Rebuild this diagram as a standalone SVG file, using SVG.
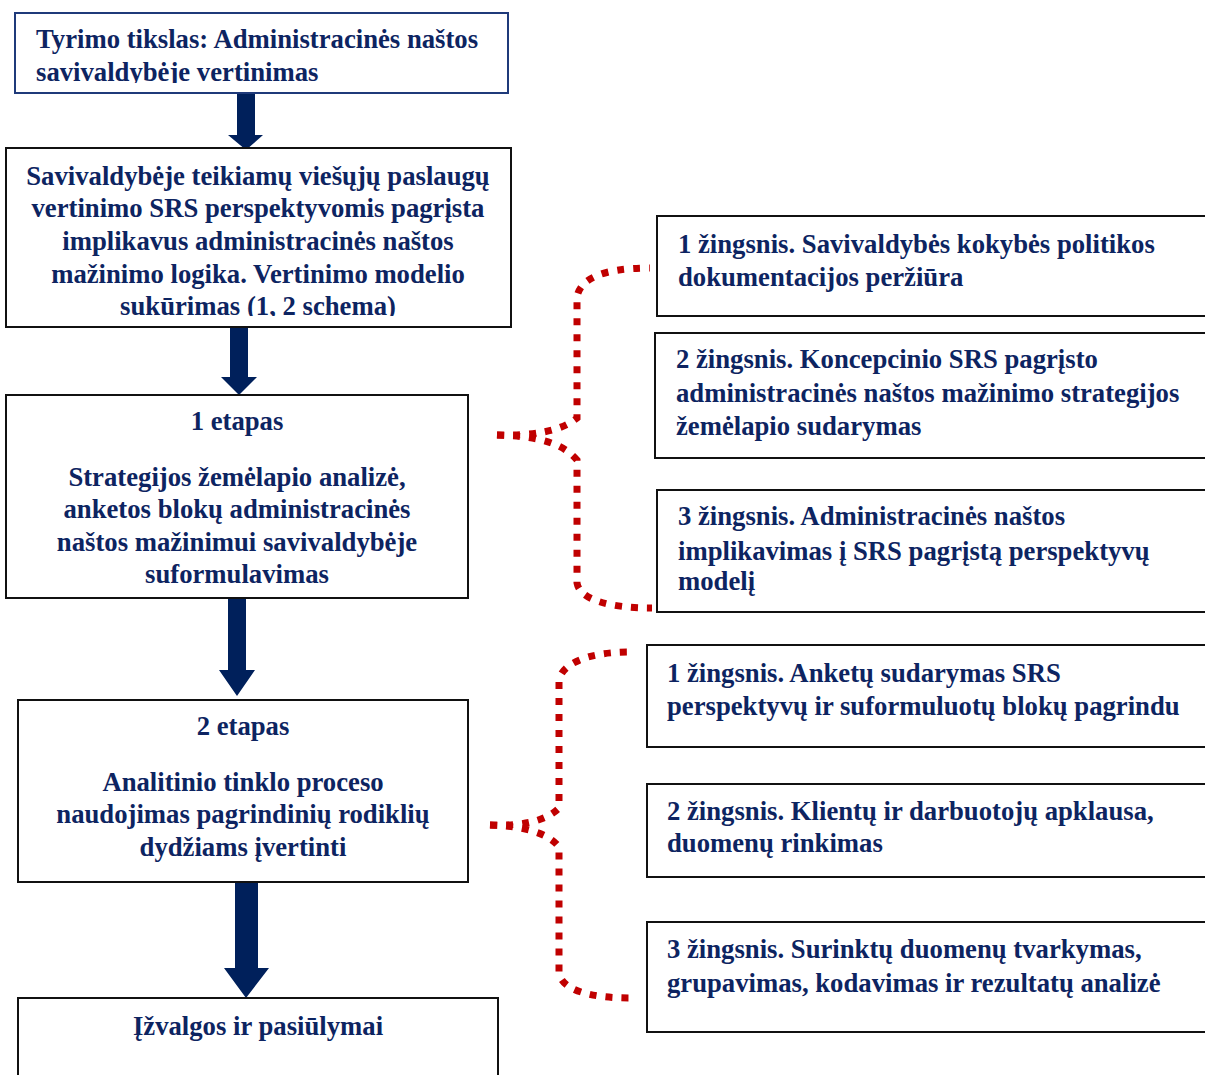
<svg xmlns="http://www.w3.org/2000/svg" width="1205" height="1075" viewBox="0 0 1205 1075">
  <style>
    .box { fill: #ffffff; stroke: #111111; stroke-width: 2; }
    .box-blue { fill: #ffffff; stroke: #1f3a7a; stroke-width: 2; }
    .t { font-family: "Liberation Serif", "Times New Roman", serif; font-weight: bold; font-size: 26.7px; fill: #0d2461; }
    .c { text-anchor: middle; }
    .arrow { fill: #00205b; }
    .brace { fill: none; stroke: #c00000; stroke-width: 7; stroke-dasharray: 7 9; }
  </style>
  <defs>
    <clipPath id="clip-goal"><rect x="15" y="13" width="493" height="70"/></clipPath>
    <clipPath id="clip-model"><rect x="6" y="148" width="505" height="168"/></clipPath>
  </defs>

  <!-- connectors: block arrows and dotted braces -->
  <g id="connectors">
    <polygon class="arrow" points="237,93 255,93 255,135 263,135 246,150 228,135 237,135"/>
    <polygon class="arrow" points="230,327 248,327 248,377 257,377 239,395 221,377 230,377"/>
    <polygon class="arrow" points="228,598 246,598 246,670 255,670 237,696 219,670 228,670"/>
    <polygon class="arrow" points="235,882 258,882 258,968 269,968 246,998 224,968 235,968"/>
    <path class="brace" d="M497,435 C530,436 560,432 577,418 L577,297 C580,280 600,268 650,268"/>
    <path class="brace" d="M497,435 C530,436 560,440 577,460 L577,583 C580,600 610,608 652,608"/>
    <path class="brace" d="M490,825 C520,826 545,822 559,808 L559,680 C562,665 585,652 630,652"/>
    <path class="brace" d="M490,825 C520,826 548,832 559,847 L559,973 C562,990 590,998 630,998"/>
  </g>

  <g id="node-goal">
    <rect class="box-blue" x="15" y="13" width="493" height="80"/>
    <g clip-path="url(#clip-goal)">
      <text class="t" x="36" y="48">Tyrimo tikslas: Administracinės naštos</text>
      <text class="t" x="36" y="81">savivaldybėje vertinimas</text>
    </g>
  </g>

  <g id="node-model">
    <rect class="box" x="6" y="148" width="505" height="179"/>
    <g clip-path="url(#clip-model)">
      <text class="t c" x="258" y="185">Savivaldybėje teikiamų viešųjų paslaugų</text>
      <text class="t c" x="258" y="217">vertinimo SRS perspektyvomis pagrįsta</text>
      <text class="t c" x="258" y="250">implikavus administracinės naštos</text>
      <text class="t c" x="258" y="283">mažinimo logika. Vertinimo modelio</text>
      <text class="t c" x="258" y="315">sukūrimas (1, 2 schema)</text>
    </g>
  </g>

  <g id="node-stage1">
    <rect class="box" x="6" y="395" width="462" height="203"/>
    <text class="t c" x="237" y="430">1 etapas</text>
    <text class="t c" x="237" y="486">Strategijos žemėlapio analizė,</text>
    <text class="t c" x="237" y="518">anketos blokų administracinės</text>
    <text class="t c" x="237" y="551">naštos mažinimui savivaldybėje</text>
    <text class="t c" x="237" y="583">suformulavimas</text>
  </g>

  <g id="node-stage2">
    <rect class="box" x="18" y="700" width="450" height="182"/>
    <text class="t c" x="243" y="735">2 etapas</text>
    <text class="t c" x="243" y="791">Analitinio tinklo proceso</text>
    <text class="t c" x="243" y="823">naudojimas pagrindinių rodiklių</text>
    <text class="t c" x="243" y="856">dydžiams įvertinti</text>
  </g>

  <g id="node-conclusions">
    <rect class="box" x="18" y="998" width="480" height="100"/>
    <text class="t c" x="258" y="1035">Įžvalgos ir pasiūlymai</text>
  </g>

  <g id="node-s1-step1">
    <rect class="box" x="657" y="216" width="570" height="100"/>
    <text class="t" x="678" y="253">1 žingsnis. Savivaldybės kokybės politikos</text>
    <text class="t" x="678" y="286">dokumentacijos peržiūra</text>
  </g>

  <g id="node-s1-step2">
    <rect class="box" x="655" y="333" width="570" height="125"/>
    <text class="t" x="676" y="368">2 žingsnis. Koncepcinio SRS pagrįsto</text>
    <text class="t" x="676" y="402">administracinės naštos mažinimo strategijos</text>
    <text class="t" x="676" y="435">žemėlapio sudarymas</text>
  </g>

  <g id="node-s1-step3">
    <rect class="box" x="657" y="490" width="570" height="122"/>
    <text class="t" x="678" y="525">3 žingsnis. Administracinės naštos</text>
    <text class="t" x="678" y="560">implikavimas į SRS pagrįstą perspektyvų</text>
    <text class="t" x="678" y="590">modelį</text>
  </g>

  <g id="node-s2-step1">
    <rect class="box" x="647" y="645" width="580" height="102"/>
    <text class="t" x="667" y="682">1 žingsnis. Anketų sudarymas SRS</text>
    <text class="t" x="667" y="715">perspektyvų ir suformuluotų blokų pagrindu</text>
  </g>

  <g id="node-s2-step2">
    <rect class="box" x="647" y="784" width="580" height="93"/>
    <text class="t" x="667" y="820">2 žingsnis. Klientų ir darbuotojų apklausa,</text>
    <text class="t" x="667" y="852">duomenų rinkimas</text>
  </g>

  <g id="node-s2-step3">
    <rect class="box" x="647" y="922" width="580" height="110"/>
    <text class="t" x="667" y="958">3 žingsnis. Surinktų duomenų tvarkymas,</text>
    <text class="t" x="667" y="992">grupavimas, kodavimas ir rezultatų analizė</text>
  </g>
</svg>
